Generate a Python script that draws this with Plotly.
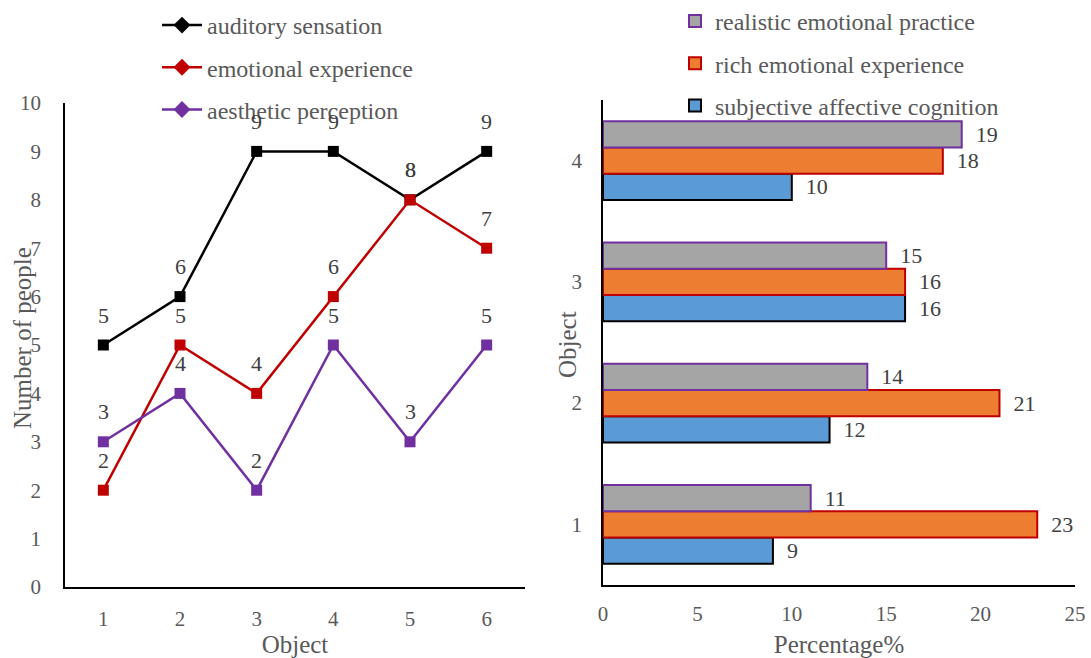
import plotly.graph_objects as go

# Line chart: number of people per object
objects = [1, 2, 3, 4, 5, 6]
auditory = [5, 6, 9, 9, 8, 9]
emotional = [2, 5, 4, 6, 8, 7]
aesthetic = [3, 4, 2, 5, 3, 5]

# Bar chart: percentage per object
bar_objects = [1, 2, 3, 4]
subjective = [9, 12, 16, 10]
rich = [23, 21, 16, 18]
realistic = [11, 14, 15, 19]

FONT = "Liberation Serif, Times New Roman, DejaVu Serif, serif"
GREY = "#595959"
LABEL = "#404040"
W, H = 1091, 658

line_series = [
    ("auditory sensation", auditory, "#000000"),
    ("emotional experience", emotional, "#C00000"),
    ("aesthetic perception", aesthetic, "#7030A0"),
]

fig = go.Figure()

for name, vals, col in line_series:
    fig.add_trace(go.Scatter(
        x=objects, y=vals, mode="lines+markers", name=name,
        line=dict(color=col, width=2.5),
        marker=dict(symbol="square", size=11, color=col),
        showlegend=False, xaxis="x", yaxis="y",
    ))

# legend entries with diamond symbols
for i, (name, vals, col) in enumerate(line_series):
    fig.add_trace(go.Scatter(
        x=[None], y=[None], mode="lines+markers", name=name,
        line=dict(color=col, width=2.5),
        marker=dict(symbol="diamond", size=13, color=col),
        legend="legend", legendgroup=f"l{i}", xaxis="x", yaxis="y",
    ))

# value labels above the points
for name, vals, col in line_series:
    for xv, yv in zip(objects, vals):
        fig.add_annotation(
            x=xv, y=yv, xref="x", yref="y", text=str(yv), showarrow=False,
            yshift=30, font=dict(family=FONT, size=22, color=LABEL),
        )

bar_series = [
    ("subjective affective cognition", subjective, "#5B9BD5", "#000000", 3),
    ("rich emotional experience", rich, "#ED7D31", "#C00000", 2),
    ("realistic emotional practice", realistic, "#A5A5A5", "#7030A0", 1),
]
for i, (name, vals, fill, edge, rank) in enumerate(bar_series):
    fig.add_trace(go.Bar(
        y=bar_objects, x=vals, orientation="h", name=name,
        marker=dict(color=fill, line=dict(color=edge, width=2)),
        text=[str(v) for v in vals], textposition="outside",
        texttemplate="\u00a0\u00a0%{x}",
        textfont=dict(family=FONT, size=22, color=LABEL),
        cliponaxis=False,
        legend="legend2", legendgroup=f"b{rank}", legendrank=rank,
        xaxis="x2", yaxis="y2",
    ))

axis_font = dict(family=FONT, size=21, color=GREY)
title_font = dict(family=FONT, size=25, color=GREY)
legend_font = dict(family=FONT, size=24, color=GREY)

# y-axis titles sit close to the tick labels
fig.add_annotation(
    x=22 / W, y=1 - 338 / H, xref="paper", yref="paper", text="Number of people",
    textangle=-90, showarrow=False, font=title_font,
    xanchor="center", yanchor="middle",
)
fig.add_annotation(
    x=567 / W, y=1 - 345 / H, xref="paper", yref="paper", text="Object",
    textangle=-90, showarrow=False, font=title_font,
    xanchor="center", yanchor="middle",
)

fig.update_layout(
    width=W, height=H,
    margin=dict(l=0, r=0, t=0, b=0, autoexpand=False),
    paper_bgcolor="white", plot_bgcolor="white",
    font=dict(family=FONT, color=GREY),
    barmode="group", bargap=0.35, bargroupgap=0,
    xaxis=dict(
        domain=[65 / W, 525 / W], range=[0.5, 6.5], automargin=False,
        tickvals=objects, showgrid=False, zeroline=False,
        showline=True, linecolor="#000000", linewidth=2,
        ticks="", tickfont=axis_font, ticklabelstandoff=12,
        title=dict(text="Object", font=title_font, standoff=17),
        anchor="y",
    ),
    yaxis=dict(
        domain=[1 - 587 / H, 1 - 103 / H], range=[0, 10], automargin=False,
        dtick=1, showgrid=False, zeroline=False,
        showline=True, linecolor="#000000", linewidth=1.5,
        ticks="", tickfont=axis_font, ticklabelstandoff=18,
        anchor="x",
    ),
    xaxis2=dict(
        domain=[603 / W, 1075 / W], range=[0, 25], automargin=False,
        dtick=5, showgrid=False, zeroline=False,
        showline=True, linecolor="#000000", linewidth=1.5,
        ticks="", tickfont=axis_font, ticklabelstandoff=9,
        title=dict(text="Percentage%", font=title_font, standoff=19),
        anchor="y2",
    ),
    yaxis2=dict(
        domain=[1 - 585 / H, 1 - 100 / H], range=[0.5, 4.5], automargin=False,
        tickvals=bar_objects, showgrid=False, zeroline=False,
        showline=True, linecolor="#000000", linewidth=1.5,
        ticks="", tickfont=axis_font, ticklabelstandoff=15,
        anchor="x2",
    ),
    legend=dict(
        x=157 / W, y=1 - 3 / H, xanchor="left", yanchor="top",
        bgcolor="rgba(0,0,0,0)", font=legend_font,
        traceorder="grouped", tracegroupgap=8, itemwidth=40,
    ),
    legend2=dict(
        x=675 / W, y=1 + 1 / H, xanchor="left", yanchor="top",
        bgcolor="rgba(0,0,0,0)", font=legend_font,
        traceorder="grouped", tracegroupgap=8, itemwidth=30,
    ),
)

fig.write_html("out.html")
